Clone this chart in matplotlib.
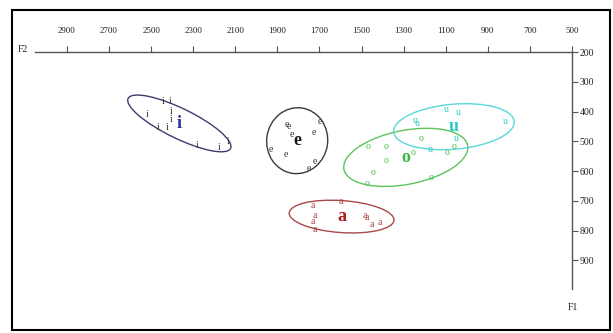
import matplotlib
matplotlib.use("Agg")
import matplotlib.pyplot as plt
from matplotlib.patches import Ellipse, Rectangle
from matplotlib.transforms import ScaledTranslation

plt.rcParams['font.family'] = ['Liberation Serif', 'DejaVu Serif']

# formant values in Hz, one entry per token
i_f2 = [2519, 2442, 2411, 2406, 2403, 2469, 2426, 2281, 2178, 2133]
i_f1 = [409, 367, 367, 401, 428, 454, 454, 513, 520, 501]
e_f2 = [1856, 1844, 1832, 1725, 1698, 1931, 1859, 1721, 1749]
e_f1 = [442, 451, 477, 471, 434, 527, 546, 569, 593]
a_f2 = [1598, 1734, 1721, 1730, 1721, 1484, 1473, 1452, 1413]
a_f1 = [701, 717, 748, 770, 798, 748, 755, 781, 774]
o_f2 = [1468, 1385, 1385, 1444, 1476, 1172, 1257, 1219, 1094, 1059]
o_f1 = [519, 516, 564, 604, 641, 621, 537, 490, 538, 518]
u_f2 = [1099, 1038, 1246, 1233, 1048, 817, 1173]
u_f1 = [392, 402, 430, 440, 491, 435, 526]

# vowel means
vowels = ['i', 'e', 'a', 'o', 'u']
mean_f2 = [2366, 1806, 1595, 1290, 1061]
mean_f1 = [440, 498, 753, 554, 451]

tokens = {'i': (i_f2, i_f1), 'e': (e_f2, e_f1), 'a': (a_f2, a_f1),
          'o': (o_f2, o_f1), 'u': (u_f2, u_f1)}

# style per vowel: token colour, mean label colour, ellipse colour
style = {
    'i': ('#333333', '#2a34a0', '#3c3c6e'),
    'e': ('#333333', '#1a1a1a', '#3a3a3a'),
    'a': ('#b03a3a', '#b01c1c', '#a84848'),
    'o': ('#44bb44', '#3cb83c', '#5cc45c'),
    'u': ('#33cccc', '#2ec8c8', '#5ad8d8'),
}
# ellipse width, height (px) and tilt (deg)
shape = {
    'i': (114, 30, -26),
    'e': (61, 66, -8),
    'a': (105, 32, -4),
    'o': (126, 54, 11),
    'u': (121, 45, 5),
}

fig = plt.figure(figsize=(6.13, 3.33), dpi=100)
ax = fig.add_axes([35/613, 1-288.6/333, (572-35)/613, (288.6-52)/333])
ax.set_xlim(3052, 500)
ax.set_ylim(995, 200)

for v, m2, m1 in zip(vowels, mean_f2, mean_f1):
    tc, mc, ec = style[v]
    f2, f1 = tokens[v]
    for x, y in zip(f2, f1):
        ax.text(x, y, v, ha='center', va='center', fontsize=7, color=tc)
    ax.text(m2, m1, v, ha='center', va='center', fontsize=13,
            fontweight='bold', color=mc)
    w, h, ang = shape[v]
    tr = fig.dpi_scale_trans + ScaledTranslation(m2, m1, ax.transData)
    ax.add_patch(Ellipse((0, 0), w/100, h/100, angle=ang, fill=False,
                         edgecolor=ec, lw=1.0, transform=tr))

for s in ['left', 'bottom']:
    ax.spines[s].set_visible(False)
for s in ['top', 'right']:
    ax.spines[s].set_color('#555555')
    ax.spines[s].set_linewidth(1.0)

ax.xaxis.tick_top()
ax.yaxis.tick_right()
ax.set_xticks(range(2900, 400, -200))
ax.set_yticks(range(200, 1000, 100))
ax.tick_params(axis='x', direction='out', length=4, width=0.8, color='#555555',
               labelsize=6.5, labelcolor='#222222', pad=8)
ax.tick_params(axis='y', direction='out', length=4, width=0.8, color='#555555',
               labelsize=7, labelcolor='#222222', pad=1.5)

fig.text(23/613, 1-49/333, 'F2', ha='center', va='center', fontsize=7, color='#222222')
fig.text(573/613, 1-307/333, 'F1', ha='center', va='center', fontsize=7, color='#222222')

fig.patches.append(Rectangle((12/613, 3/333), 598/613, 320/333, fill=False,
                             edgecolor='black', lw=1.5, transform=fig.transFigure))

fig.savefig('out.png', dpi=100)
